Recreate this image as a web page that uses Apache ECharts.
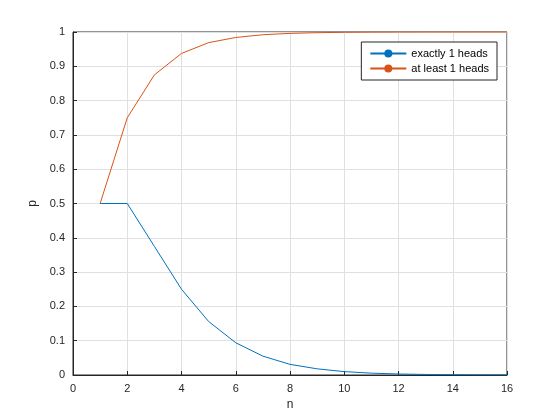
<!DOCTYPE html>
<html style="height: 100%">
<head>
    <meta charset="utf-8">
    <script src="https://cdn.jsdelivr.net/npm/echarts@6/dist/echarts.min.js"></script>
</head>
<body style="height: 100%; margin: 0; background: #fff">
<div id="container" style="width: 560px; height: 420px"></div>
<script type="text/javascript">
    var n = [1, 2, 3, 4, 5, 6, 7, 8, 9, 10, 11, 12, 13, 14, 15, 16];
    var exactlyOne = [0.5, 0.5, 0.375, 0.25, 0.156, 0.094, 0.055, 0.031, 0.018, 0.0098,
        0.0054, 0.0029, 0.0016, 0.00085, 0.00046, 0.00024];
    var atLeastOne = [0.5, 0.75, 0.875, 0.9375, 0.969, 0.984, 0.992, 0.996, 0.998, 0.999,
        0.9995, 0.9998, 0.9999, 0.99994, 0.99997, 0.99998];

    function pairs(ys) {
        var out = [];
        for (var i = 0; i < n.length; i++) out.push([n[i], ys[i]]);
        return out;
    }

    var font = 'Liberation Sans, Arial, sans-serif';
    var chart = echarts.init(document.getElementById('container'));
    var axisCommon = {
        axisLine: { show: true, onZero: false, lineStyle: { color: '#262626' } },
        axisTick: { show: true, inside: true, length: 4, lineStyle: { color: '#262626' } },
        axisLabel: { color: '#262626', fontSize: 11, fontFamily: font },
        splitLine: { show: true, lineStyle: { color: '#e0e0e0' } },
        nameTextStyle: { color: '#262626', fontSize: 12, fontFamily: font }
    };
    chart.setOption({
        animation: false,
        grid: { left: 73, right: 53, top: 32, bottom: 45, show: true, borderColor: '#262626', borderWidth: 1 },
        xAxis: Object.assign({}, axisCommon, {
            type: 'value', min: 0, max: 16, interval: 2,
            name: 'n', nameLocation: 'middle', nameGap: 24
        }),
        yAxis: Object.assign({}, axisCommon, {
            type: 'value', min: 0, max: 1, interval: 0.1,
            name: 'p', nameLocation: 'middle', nameGap: 32,
            axisLabel: Object.assign({}, axisCommon.axisLabel, {
                formatter: function (v) { return +v.toFixed(1) + ''; }
            })
        }),
        legend: {
            orient: 'vertical', right: 63, top: 42,
            backgroundColor: '#fff', borderColor: '#262626', borderWidth: 1,
            padding: [6, 8], itemGap: 4, itemWidth: 36, itemHeight: 10,
            textStyle: { fontSize: 11, fontFamily: font, color: '#000' },
            data: ['exactly 1 heads', 'at least 1 heads']
        },
        series: [
            { name: 'exactly 1 heads', type: 'line', data: pairs(exactlyOne), symbol: 'none',
              lineStyle: { width: 1, color: '#0072BD' }, itemStyle: { color: '#0072BD' } },
            { name: 'at least 1 heads', type: 'line', data: pairs(atLeastOne), symbol: 'none',
              lineStyle: { width: 1, color: '#D95319' }, itemStyle: { color: '#D95319' } }
        ]
    });
</script>
</body>
</html>
